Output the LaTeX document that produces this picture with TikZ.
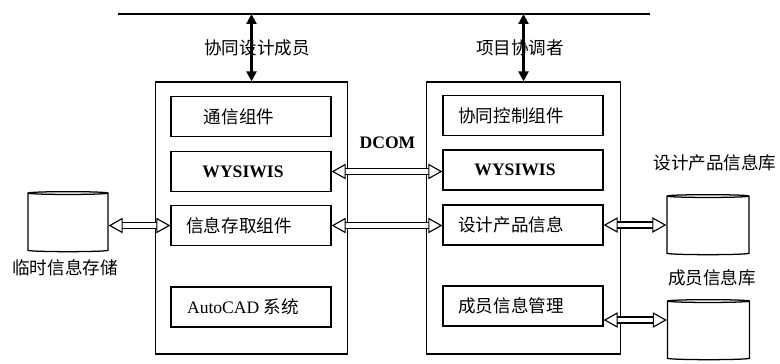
\documentclass[tikz,border=0pt]{standalone}
\usepackage{fontspec}
\setmainfont{Liberation Serif}
\newfontfamily\cjk{Noto Sans CJK SC}
\usetikzlibrary{shapes.geometric,arrows.meta}

\begin{document}
\begin{tikzpicture}[x=0.025cm, y=-0.025cm, line width=0.9pt,
	font=\fontsize{12.5}{15}\selectfont,
	outer/.style={rectangle, draw, minimum width=4.8cm, minimum height=6.8cm},
	inner/.style={rectangle, draw, minimum width=4cm, minimum height=1cm},
	txt/.style={xshift=-0.3cm, font=\fontsize{12.5}{15}\selectfont\cjk},
	bold/.style={xshift=-0.2cm, font=\fontsize{12.5}{15}\selectfont\bfseries},
	db/.style={cylinder, draw, shape border rotate=90, aspect=0.3, minimum width=2cm, minimum height=1.5cm},
	hollow/.style={double, double distance=0.12cm, line width=0.8pt, {Triangle[open, length=10pt, width=11pt, fill=white]}-{Triangle[open, length=10pt, width=11pt, fill=white]}},
	link/.style={line width=1.6pt, {Triangle[length=7pt, width=7pt]}-{Triangle[length=7pt, width=7pt]}}]
	\useasboundingbox (0,0) rectangle (780,363);
	% bus
	\coordinate (busL) at (118, 14);
	\coordinate (busR) at (650, 14);
	\coordinate (tapL) at (251.5, 14);
	\coordinate (tapR) at (523.5, 14);
	\draw[line width=0.8pt] (busL) -- (busR);
	% the two sides
	\node (L) at (251.5, 218)	[outer]	{};
	\node (R) at (523.5, 218)	[outer, minimum width=4.85cm]	{};
	\draw[link] (tapL) -- (L.north);
	\draw[link] (tapR) -- (R.north);
	\node (Lrole) at (257, 48)	[font=\fontsize{12.5}{15}\selectfont\cjk]	{协同设计成员};
	\node (Rrole) at (520, 48)	[font=\fontsize{12.5}{15}\selectfont\cjk]	{项目协调者};
	% left components
	\node (Lcomm) at (251, 116.5)	[inner, label={[txt]center:通信组件}]	{};
	\node (Lwys) at (251, 171.5)	[inner, label={[bold]center:WYSIWIS}]	{};
	\node (Lacc) at (251, 225.5)	[inner, label={[txt]center:信息存取组件}]	{};
	\node (Lcad) at (251, 307)	[inner, label={[xshift=-0.2cm]center:AutoCAD {\cjk 系统}}]	{};
	% right components
	\node (Rctl) at (523, 115.5)	[inner, label={[txt]center:协同控制组件}]	{};
	\node (Rwys) at (523, 170)	[inner, label={[bold]center:WYSIWIS}]	{};
	\node (Rprod) at (523, 225)	[inner, label={[txt]center:设计产品信息}]	{};
	\node (Rmem) at (523, 306)	[inner, label={[txt]center:成员信息管理}]	{};
	\node (dcom) at (387.5, 143)	[font=\fontsize{12.5}{15}\selectfont\bfseries]	{DCOM};
	% stores
	\node (tmp) at (68, 223)	[db]	{};
	\node (prod) at (708, 226)	[db, minimum width=2.05cm]	{};
	\node (mem) at (708.5, 331)	[db, minimum width=2.05cm]	{};
	\node (tmpname) at (65, 268)	[font=\fontsize{12.5}{15}\selectfont\cjk]	{临时信息存储};
	\node (prodname) at (715, 163)	[font=\fontsize{12.5}{15}\selectfont\cjk]	{设计产品信息库};
	\node (memname) at (712, 278)	[font=\fontsize{12.5}{15}\selectfont\cjk]	{成员信息库};
	% links
	\draw[hollow] (Lwys.east) -- (Lwys.east -| Rwys.west);
	\draw[hollow] (Lacc.east) -- (Lacc.east -| Rprod.west);
	\draw[hollow] (Lacc.west -| tmp.east) -- (Lacc.west);
	\draw[hollow] (Rprod.east) -- (Rprod.east -| prod.west);
	\draw[hollow] ([yshift=-0.35cm]Rmem.east) -- ([yshift=-0.35cm]Rmem.east -| mem.west);
\end{tikzpicture}
\end{document}
